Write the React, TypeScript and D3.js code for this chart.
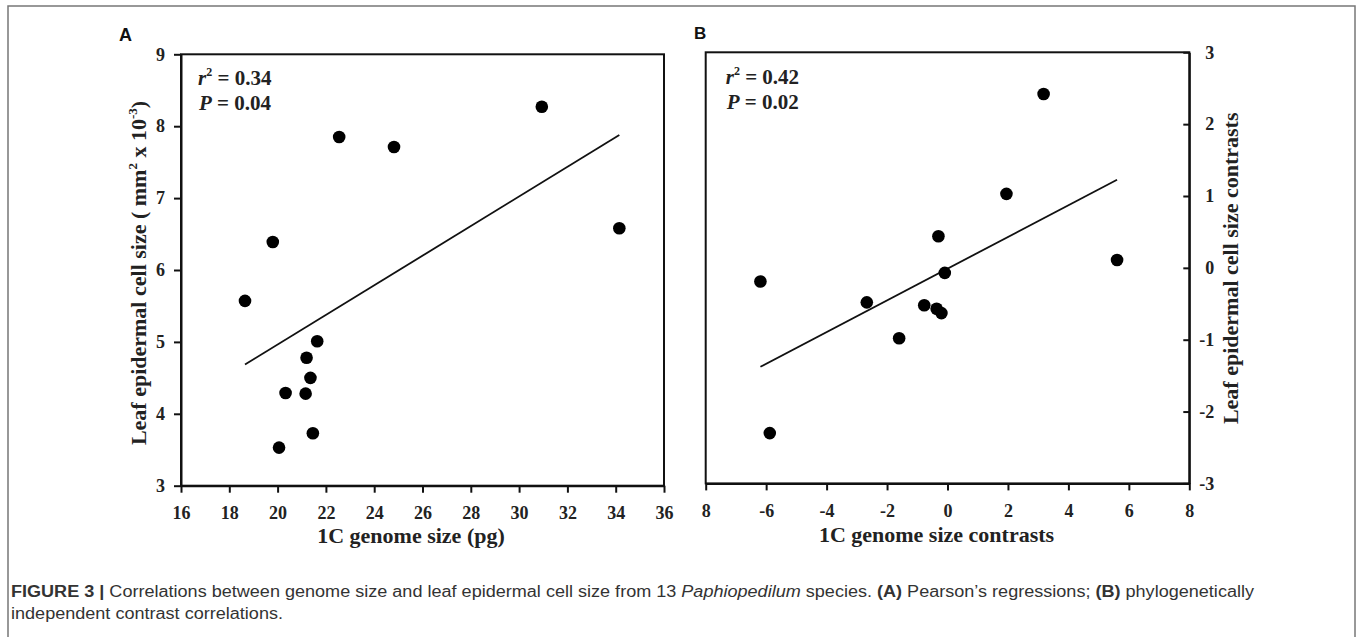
import React, { useEffect, useRef } from "react";
import * as d3 from "d3";

// panel A: Pearson's regression
const genomeSizeA = [22.55, 24.82, 30.94, 34.15, 19.8, 18.65, 21.64, 21.2, 21.36, 20.33, 21.16, 21.46, 20.06];
const cellSizeA = [7.85, 7.71, 8.27, 6.58, 6.39, 5.57, 5.01, 4.78, 4.5, 4.29, 4.28, 3.73, 3.53];
const fitA = { slope: 0.206, intercept: 0.843 };
const xTicksA = [16, 18, 20, 22, 24, 26, 28, 30, 32, 34, 36];
const yTicksA = [3, 4, 5, 6, 7, 8, 9];

// panel B: phylogenetically independent contrasts
const genomeContrastB = [3.18, 1.95, -0.3, 5.61, -0.09, -6.19, -2.67, -0.77, -0.36, -0.2, -1.6, -5.88];
const cellContrastB = [2.42, 1.03, 0.44, 0.11, -0.07, -0.19, -0.48, -0.52, -0.57, -0.63, -0.98, -2.3];
const fitB = { slope: 0.2206, intercept: -0.0115 };
const xTicksB = [-8, -6, -4, -2, 0, 2, 4, 6, 8];
const xTickLabelsB = ["8", "-6", "-4", "-2", "0", "2", "4", "6", "8"];
const yTicksB = [-3, -2, -1, 0, 1, 2, 3];

const serif = "'Liberation Serif', 'Times New Roman', serif";
const sans = "'Liberation Sans', Arial, sans-serif";

const Axis = ({ gen, transform, textX, anchor }: any) => {
  const ref = useRef<SVGGElement>(null);
  useEffect(() => {
    const g = d3.select(ref.current);
    g.call(gen);
    g.select(".domain").attr("stroke", "#111").attr("stroke-width", 2);
    g.selectAll(".tick line").attr("stroke", "#111").attr("stroke-width", 2);
    const t = g
      .selectAll(".tick text")
      .attr("fill", "#222")
      .attr("font-family", serif)
      .attr("font-weight", "bold")
      .attr("font-size", 18);
    if (textX !== undefined) t.attr("x", textX);
    if (anchor) t.attr("text-anchor", anchor);
  }, [gen]);
  return <g ref={ref} transform={transform} />;
};

const Dots = ({ xs, ys, x, y }: any) => (
  <g>
    {xs.map((v: number, i: number) => (
      <circle key={i} cx={x(v)} cy={y(ys[i])} r={6.3} fill="#000" />
    ))}
  </g>
);

const FitLine = ({ xs, fit, x, y }: any) => {
  const [x0, x1] = d3.extent(xs) as [number, number];
  const line = d3
    .line<number>()
    .x((d) => x(d))
    .y((d) => y(fit.intercept + fit.slope * d));
  return <path d={line([x0, x1]) || ""} fill="none" stroke="#111" strokeWidth={1.8} />;
};

const Stats = ({ x, y, r2, p }: any) => (
  <g fontFamily={serif} fontWeight="bold" fontSize={21} fill="#222">
    <text x={x} y={y}>
      <tspan fontStyle="italic">r</tspan>
      <tspan dy={-9} fontSize={12}>2</tspan>
      <tspan dy={9}>{` = ${r2}`}</tspan>
    </text>
    <text x={x + 1} y={y + 25}>
      <tspan fontStyle="italic">P</tspan>
      <tspan>{` = ${p}`}</tspan>
    </text>
  </g>
);

// caption: first line runs to the column edge, second line gets the same stretch
const Caption = () => {
  const line1 = useRef<SVGTextElement>(null);
  const line2 = useRef<SVGTextElement>(null);
  useEffect(() => {
    const a = line1.current;
    const b = line2.current;
    if (!a || !b) return;
    const k = 1243 / a.getComputedTextLength();
    a.setAttribute("textLength", "1243");
    b.setAttribute("textLength", String(b.getComputedTextLength() * k));
  }, []);
  return (
    <g fontFamily={sans} fontSize={16} fill="#333">
      <text ref={line1} x={11} y={596.7} lengthAdjust="spacingAndGlyphs">
        <tspan fontWeight="bold">FIGURE 3 |</tspan>
        <tspan> Correlations between genome size and leaf epidermal cell size from 13 </tspan>
        <tspan fontStyle="italic">Paphiopedilum</tspan>
        <tspan> species. </tspan>
        <tspan fontWeight="bold">(A)</tspan>
        <tspan> Pearson’s regressions; </tspan>
        <tspan fontWeight="bold">(B)</tspan>
        <tspan> phylogenetically</tspan>
      </text>
      <text ref={line2} x={11} y={619} lengthAdjust="spacingAndGlyphs">
        independent contrast correlations.
      </text>
    </g>
  );
};

export default function App() {
  const xA = d3.scaleLinear().domain([16, 36]).range([181, 664]);
  const yA = d3.scaleLinear().domain([3, 9]).range([485.7, 54.3]);
  const xB = d3.scaleLinear().domain([-8, 8]).range([705.7, 1189.3]);
  const yB = d3.scaleLinear().domain([-3, 3]).range([483.4, 52.3]);

  const axA_x = d3.axisBottom(xA).tickValues(xTicksA).tickSizeInner(7).tickSizeOuter(0).tickPadding(14).tickFormat((d) => String(d));
  const axA_y = d3.axisLeft(yA).tickValues(yTicksA).tickSizeInner(7).tickSizeOuter(0).tickPadding(9).tickFormat((d) => String(d));
  const axB_x = d3
    .axisBottom(xB)
    .tickValues(xTicksB)
    .tickSizeInner(7)
    .tickSizeOuter(0)
    .tickPadding(14)
    .tickFormat((_, i) => xTickLabelsB[i]);
  const axB_y = d3.axisRight(yB).tickValues(yTicksB).tickSizeInner(-6).tickSizeOuter(0).tickPadding(8).tickFormat((d) => String(d));

  return (
    <svg
      width={1358}
      height={637}
      style={{ position: "absolute", left: 0, top: 0, background: "#fff" }}
    >
      <rect x={8} y={6} width={1347} height={660} fill="none" stroke="#777" strokeWidth={1.5} />

      {/* panel letters */}
      <text x={119} y={41} fontFamily={sans} fontWeight="bold" fontSize={18} fill="#111">A</text>
      <text x={694} y={39} fontFamily={sans} fontWeight="bold" fontSize={17} fill="#111">B</text>

      {/* panel A */}
      <rect x={181} y={54.3} width={483} height={431.4} fill="none" stroke="#111" strokeWidth={2} />
      <FitLine xs={genomeSizeA} fit={fitA} x={xA} y={yA} />
      <Dots xs={genomeSizeA} ys={cellSizeA} x={xA} y={yA} />
      <Axis gen={axA_x} transform="translate(0,485.7)" />
      <Axis gen={axA_y} transform="translate(181,0)" />
      <Stats x={198} y={85} r2="0.34" p="0.04" />
      <text x={411} y={543} textAnchor="middle" fontFamily={serif} fontWeight="bold" fontSize={22} fill="#222">
        1C genome size (pg)
      </text>
      <text
        transform="translate(145.5,273) rotate(-90)"
        textAnchor="middle"
        fontFamily={serif}
        fontWeight="bold"
        fontSize={22}
        fill="#222"
      >
        Leaf epidermal cell size ( mm
        <tspan dy={-9} fontSize={13}>2</tspan>
        <tspan dy={9}> x 10</tspan>
        <tspan dy={-9} fontSize={13}>-3</tspan>
        <tspan dy={9}>)</tspan>
      </text>

      {/* panel B */}
      <rect x={705.7} y={52.3} width={483.6} height={431.1} fill="none" stroke="#111" strokeWidth={2} />
      <FitLine xs={genomeContrastB} fit={fitB} x={xB} y={yB} />
      <Dots xs={genomeContrastB} ys={cellContrastB} x={xB} y={yB} />
      <Axis gen={axB_x} transform="translate(0,483.4)" />
      <Axis gen={axB_y} transform="translate(1189.3,0)" textX={25} anchor="end" />
      <Stats x={725.7} y={84.3} r2="0.42" p="0.02" />
      <text x={936.5} y={541.7} textAnchor="middle" fontFamily={serif} fontWeight="bold" fontSize={22} fill="#222">
        1C genome size contrasts
      </text>
      <text
        transform="translate(1237.5,268.3) rotate(-90)"
        textAnchor="middle"
        fontFamily={serif}
        fontWeight="bold"
        fontSize={22}
        fill="#222"
      >
        Leaf epidermal cell size contrasts
      </text>

      <Caption />
    </svg>
  );
}
